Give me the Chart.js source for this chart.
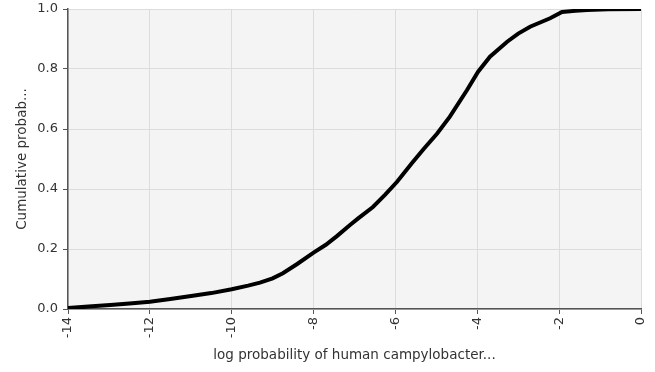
<!DOCTYPE html>
<html>
<head>
<meta charset="utf-8">
<script src="https://cdn.jsdelivr.net/npm/chart.js@4.4.1/dist/chart.umd.min.js"></script>
<style>
  html, body { margin: 0; padding: 0; background: #fff; }
  #wrap { width: 655px; height: 372px; position: relative; }
</style>
</head>
<body>
<div id="wrap"><canvas id="cdf"></canvas></div>
<script>
// log probability values (x) and cumulative probability (y)
const logProb = [-14, -13.5, -12.97, -12.5, -12, -11.5, -10.95, -10.5, -10, -9.6, -9.31, -9.0, -8.75, -8.4, -8, -7.7, -7.43, -7.11, -6.91, -6.55, -6.25, -5.96, -5.6, -5.3, -4.98, -4.67, -4.25, -3.98, -3.69, -3.27, -3.0, -2.71, -2.22, -1.93, -1.6, -1.32, -0.8, 0];
const cumProb = [0.003, 0.008, 0.013, 0.018, 0.024, 0.033, 0.044, 0.053, 0.066, 0.078, 0.088, 0.102, 0.119, 0.150, 0.188, 0.214, 0.243, 0.280, 0.302, 0.340, 0.381, 0.424, 0.486, 0.535, 0.585, 0.641, 0.730, 0.791, 0.841, 0.891, 0.918, 0.941, 0.969, 0.990, 0.994, 0.997, 0.999, 1.0];

const xTitle = "log probability of human campylobacter...";
const yTitle = "Cumulative probab...";

const points = logProb.map((x, i) => ({ x: x, y: cumProb[i] }));

const plotBg = {
  id: "plotBg",
  beforeDraw(chart) {
    const { ctx, chartArea } = chart;
    ctx.save();
    ctx.fillStyle = "#f4f4f4";
    ctx.fillRect(chartArea.left, chartArea.top, chartArea.right - chartArea.left, chartArea.bottom - chartArea.top);
    ctx.restore();
  }
};

const tickFont = { family: "DejaVu Sans", size: 13 };
const titleFont = { family: "DejaVu Sans", size: 13.5 };

new Chart(document.getElementById("cdf"), {
  type: "scatter",
  data: {
    datasets: [{
      data: points,
      showLine: true,
      borderColor: "#000",
      borderWidth: 4,
      pointRadius: 0,
      tension: 0
    }]
  },
  options: {
    responsive: true,
    maintainAspectRatio: false,
    animation: false,
    layout: { padding: { left: 0, right: 14, top: 9, bottom: 0 } },
    plugins: { legend: { display: false }, tooltip: { enabled: false } },
    scales: {
      x: {
        type: "linear",
        min: -14,
        max: 0,
        ticks: { stepSize: 2, minRotation: 90, maxRotation: 90, color: "#333", font: tickFont, padding: 3 },
        grid: { color: "#dcdcdc", tickColor: "#555", tickLength: 5 },
        border: { color: "#555", width: 1.5 },
        title: { display: true, text: xTitle, color: "#333", font: titleFont, padding: { top: 2, bottom: 8 } },
        afterFit(scale) {
          scale.height = 63;
          scale.paddingLeft = 0;
          scale.paddingRight = 0;
        }
      },
      y: {
        min: 0,
        max: 1,
        ticks: { stepSize: 0.2, color: "#333", font: tickFont, padding: 5, callback: (v) => v.toFixed(1) },
        grid: { color: "#dcdcdc", tickColor: "#555", tickLength: 5 },
        border: { color: "#555", width: 1.5 },
        title: { display: true, text: yTitle, color: "#333", font: titleFont, padding: { top: 14, bottom: 6 } },
        afterFit(scale) {
          scale.width = 68;
          scale.paddingTop = 0;
          scale.paddingBottom = 0;
        }
      }
    }
  },
  plugins: [plotBg]
});
</script>
</body>
</html>
